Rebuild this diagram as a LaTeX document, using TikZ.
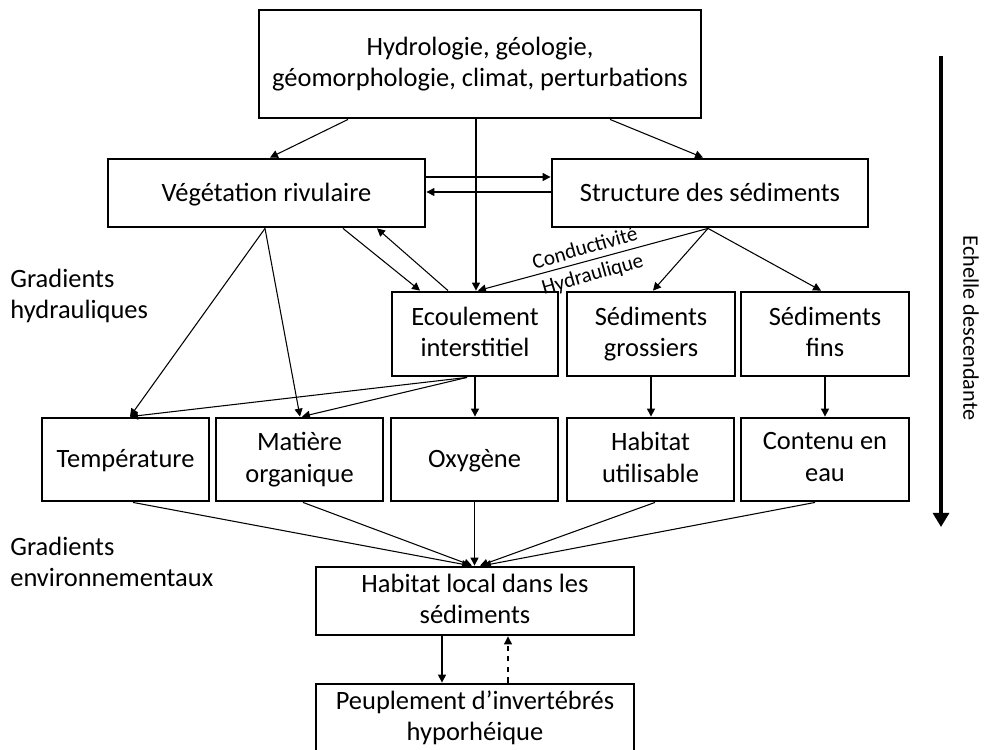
\documentclass[tikz,border=0pt]{standalone}
\usepackage{fontspec}
\setmainfont{Carlito}
\usetikzlibrary{calc,arrows.meta}
\newcommand\bxstrut{\rule[-2.6pt]{0pt}{14.6pt}}
\tikzset{
  bx/.style 2 args={draw, line width=1.6pt, minimum width=#1*0.567pt, minimum height=#2*0.567pt,
    inner sep=0pt, align=center, font=\fontsize{15}{18}\selectfont,
    execute at begin node=\bxstrut, execute at end node=\bxstrut},
  arr/.style={line width=0.6pt, -{Triangle[length=4.5pt,width=4.5pt]}},
  lbl/.style={align=left, inner sep=0pt, font=\fontsize{15}{17.5}\selectfont},
}
\begin{document}
\begin{tikzpicture}[x=0.567pt,y=-0.567pt]
\useasboundingbox (0,0) rectangle (984,749);
% nodes
\node[bx={442}{108}] (top) at (480,64) {Hydrologie, géologie,\\géomorphologie, climat, perturbations};
\node[bx={317}{68}] (veg) at (266.5,193) {Végétation rivulaire};
\node[bx={316}{68}] (struct) at (710,193) {Structure des sédiments};
\node[bx={166}{84}] (ecou) at (475,334) {Ecoulement\\interstitiel};
\node[bx={168}{84}] (sedg) at (651,334) {Sédiments\\grossiers};
\node[bx={168}{84}] (sedf) at (825,334) {Sédiments\\fins};
\node[bx={167}{83}] (temp) at (125.5,459.5) {Température};
\node[bx={167}{83}] (mat) at (299.5,459.5) {Matière\\organique};
\node[bx={167}{83}] (oxy) at (474.5,459.5) {Oxygène};
\node[bx={167}{83}] (hab) at (650.5,459.5) {Habitat\\utilisable};
\node[bx={168}{83}] (cont) at (825,459.5) {Contenu en\\eau};
\node[bx={318}{68}] (hl) at (475,601) {Habitat local dans les\\sédiments};
\node[bx={318}{68}] (peup) at (475,718) {Peuplement d’invertébrés\\hyporhéique};
% side labels
\node[lbl, anchor=west] (gh) at (10,296) {Gradients\\hydrauliques};
\node[lbl, anchor=west] (ge) at (10,562) {Gradients\\environnementaux};
\node[font=\fontsize{12.6}{15}\selectfont, rotate=-90, inner sep=0pt] (ech) at (971,328) {Echelle descendante};
% connectors
\draw[arr] ($(top.south)+(-132,0)$) -- ($(veg.north)+(3.5,0)$);
\draw[arr] ($(top.south)+(130,0)$) -- ($(struct.north)+(-7,0)$);
\draw[arr] ($(top.south)+(-4,0)$) -- ($(ecou.north)+(1,0)$);
\draw[arr] ($(veg.east)+(0,-16)$) -- ($(struct.west)+(0,-16)$);
\draw[arr] ($(struct.west)+(0,-1)$) -- ($(veg.east)+(0,-1)$);
\draw[arr] ($(veg.south)+(-1.5,0)$) -- ($(temp.north)+(4.5,0)$);
\draw[arr] ($(veg.south)+(-1.5,0)$) -- ($(mat.north)+(0.5,0)$);
\draw[arr] ($(veg.south)+(76.5,0)$) -- ($(ecou.north)+(-55,0)$);
\draw[arr] ($(ecou.north)+(-27,0)$) -- ($(veg.south)+(110.5,0)$);
\draw[arr] ($(struct.south)+(-2,0)$) -- ($(ecou.north)+(3,0)$);
\node[font=\fontsize{12}{15.5}\selectfont, rotate=16, align=center, inner sep=0pt] (cond) at (589,262) {Conductivité\\Hydraulique};
\draw[arr] ($(struct.south)+(-2,0)$) -- ($(sedg.north)+(2,0)$);
\draw[arr] ($(struct.south)+(-2,0)$) -- ($(sedf.north)+(-4,0)$);
\draw[arr] ($(ecou.south)+(-8,0)$) -- ($(temp.north)+(4.5,0)$);
\draw[arr] ($(ecou.south)+(-8,0)$) -- ($(mat.north)+(2.5,0)$);
\draw[arr] (ecou.south) -- (ecou.south |- oxy.north);
\draw[arr] (sedg.south) -- (sedg.south |- hab.north);
\draw[arr] (sedf.south) -- (sedf.south |- cont.north);
\draw[arr] ($(temp.south)+(7.5,0)$) -- ($(hl.north)+(-5,0)$);
\draw[arr] ($(mat.south)+(3.5,0)$) -- ($(hl.north)+(-3,0)$);
\draw[arr] (oxy.south) -- (oxy.south |- hl.north);
\draw[arr] ($(hab.south)+(4.5,0)$) -- ($(hl.north)+(5,0)$);
\draw[arr] ($(cont.south)+(-10,0)$) -- ($(hl.north)+(8,0)$);
\draw[arr] ($(hl.south)+(-33,0)$) -- ($(peup.north)+(-33,0)$);
\draw[arr, dashed] ($(peup.north)+(33,0)$) -- ($(hl.south)+(33,0)$);
% scale arrow
\coordinate (sa) at (941,56);
\coordinate (sb) at (941,527);
\draw[line width=2.8pt, -{Triangle[length=8pt,width=9pt]}] (sa) -- (sb);
\end{tikzpicture}
\end{document}
